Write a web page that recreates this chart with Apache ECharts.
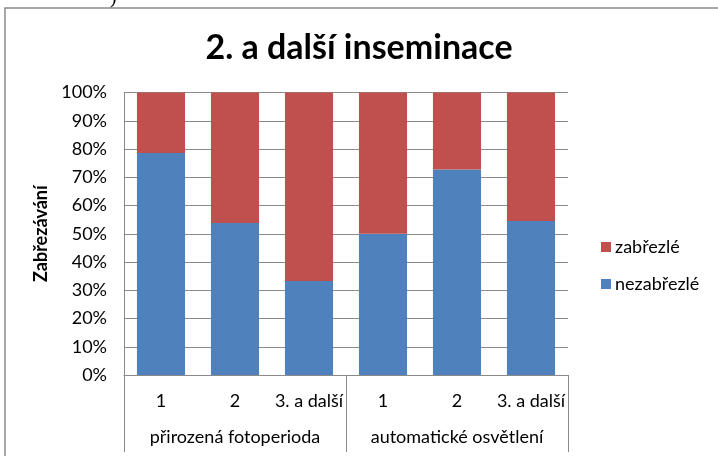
<!DOCTYPE html>
<html>
<head>
<meta charset="utf-8">
<script src="https://cdn.jsdelivr.net/npm/echarts@6/dist/echarts.min.js"></script>
<style>
  html, body { margin: 0; padding: 0; background: #fff; }
  #chart { width: 718px; height: 456px; }
</style>
</head>
<body>
<div id="chart"></div>
<script>
// data
var categories = ["1", "2", "3. a další", "1", "2", "3. a další"];
var groups = ["přirozená fotoperioda", "automatické osvětlení"];
var nezabrezle = [78.6, 53.8, 33.3, 50, 72.7, 54.5];
var zabrezle = [21.4, 46.2, 66.7, 50, 27.3, 45.5];

var font = "Lato, 'Open Sans', sans-serif";
var gray = "#8a8a8a";

var chart = echarts.init(document.getElementById("chart"));
var option = {
    animation: false,
    backgroundColor: "#fff",
    title: {
        text: "2. a další inseminace",
        left: "center",
        top: 26,
        textStyle: { fontFamily: font, fontSize: 34, fontWeight: "bold", color: "#000" }
    },
    // chart frame
    graphic: [
        {
            type: "rect",
            shape: { x: 5, y: 8, width: 800, height: 500 },
            style: { fill: null, stroke: gray, lineWidth: 1.5 }
        },
        {
            type: "text",
            left: 110, top: -12,
            style: { text: ")", fontSize: 20, fontFamily: "serif", fill: "#000" }
        }
    ],
    legend: {
        orient: "vertical",
        left: 601,
        top: 238,
        padding: 0,
        itemWidth: 10,
        itemHeight: 10,
        itemGap: 19,
        icon: "rect",
        data: ["zabřezlé", "nezabřezlé"],
        textStyle: { fontFamily: font, fontSize: 18, color: "#000", padding: [0, 0, 0, -1] }
    },
    grid: { left: 124, right: 150, top: 92.5, bottom: 81 },
    xAxis: [
        {
            type: "category",
            data: categories,
            axisLine: { lineStyle: { color: gray } },
            axisTick: { show: false },
            axisLabel: { margin: 17, interval: 0, fontFamily: font, fontSize: 18, color: "#000" }
        },
        {
            type: "category",
            data: groups,
            position: "bottom",
            axisLine: { show: false },
            axisTick: { show: true, length: 77, interval: 0, lineStyle: { color: gray } },
            axisLabel: { margin: 53, interval: 0, fontFamily: font, fontSize: 18, color: "#000" }
        }
    ],
    yAxis: {
        type: "value",
        min: 0,
        max: 100,
        interval: 10,
        name: "Zabřezávání",
        nameLocation: "middle",
        nameGap: 72,
        nameTextStyle: { fontFamily: font, fontSize: 18, fontWeight: "bold", color: "#000" },
        axisLine: { show: true, lineStyle: { color: gray } },
        axisTick: { show: false },
        splitLine: { lineStyle: { color: gray } },
        axisLabel: { formatter: "{value}%", margin: 17, fontFamily: font, fontSize: 18, color: "#000" }
    },
    series: [
        {
            name: "nezabřezlé",
            type: "bar",
            stack: "all",
            data: nezabrezle,
            barCategoryGap: "35%",
            itemStyle: { color: "#4F81BD" }
        },
        {
            name: "zabřezlé",
            type: "bar",
            stack: "all",
            data: zabrezle,
            barCategoryGap: "35%",
            itemStyle: { color: "#C0504D" }
        }
    ]
};
chart.setOption(option);
</script>
</body>
</html>
